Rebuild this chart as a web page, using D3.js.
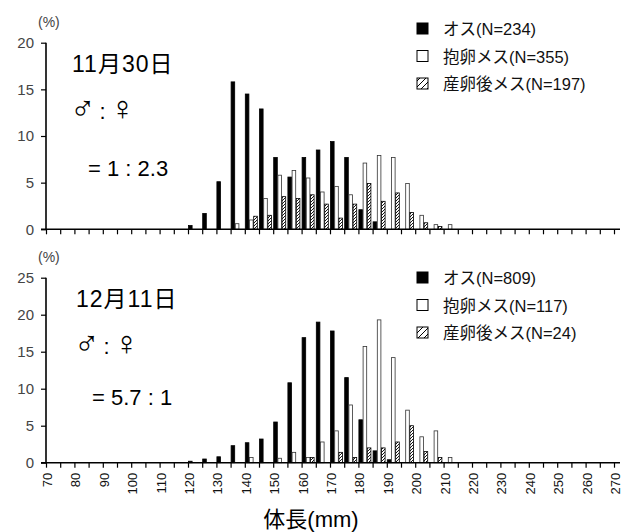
<!DOCTYPE html>
<html>
<head>
<meta charset="utf-8">
<script src="https://cdn.jsdelivr.net/npm/d3@7"></script>
<style>
  body { margin: 0; background: #fff; }
  svg { display: block; }
  text { font-family: "Liberation Sans", "Noto Sans CJK JP", sans-serif; }
</style>
</head>
<body>
<svg id="chart" width="623" height="532"></svg>
<script>
// 体長の階級 (mm, 下限)
var bins = [120, 125, 130, 135, 140, 145, 150, 155, 160, 165, 170, 175, 180, 185, 190, 195, 200, 205, 210];
var xTicks = d3.range(70, 271, 5);
var xLabels = d3.range(70, 271, 10);

// 11月30日 (%)
var male1130   = [0.4, 1.7, 5.1, 15.8, 14.5, 12.9, 7.7, 5.6, 7.7, 8.5, 9.4, 7.7, 2.1, 0.8, 0, 0, 0, 0, 0];
var ovig1130   = [0, 0, 0, 0.6, 1.0, 3.3, 5.8, 6.3, 5.5, 4.0, 4.6, 3.7, 7.1, 7.9, 7.7, 4.9, 1.5, 0.5, 0.5];
var spent1130  = [0, 0, 0, 0, 1.4, 1.5, 3.5, 3.3, 3.7, 2.7, 1.2, 2.7, 4.9, 3.0, 3.9, 1.8, 0.7, 0.3, 0];

// 12月11日 (%)
var male1211   = [0.2, 0.5, 0.8, 2.3, 2.7, 3.2, 5.5, 10.8, 16.9, 19.0, 17.8, 11.5, 5.8, 1.6, 0.4, 0, 0, 0, 0];
var ovig1211   = [0, 0, 0, 0, 0.7, 0, 0.6, 1.4, 0.7, 2.8, 4.3, 7.8, 15.7, 19.3, 14.2, 7.1, 3.5, 4.3, 0.7];
var spent1211  = [0, 0, 0, 0, 0, 0, 0, 0, 0.7, 0, 1.4, 0.7, 2.0, 2.0, 2.8, 5.0, 1.5, 0.7, 0];

var yTicks1130 = [0, 5, 10, 15, 20];
var yTicks1211 = [0, 5, 10, 15, 20, 25];

var legend1130 = ["オス(N=234)", "抱卵メス(N=355)", "産卵後メス(N=197)"];
var legend1211 = ["オス(N=809)", "抱卵メス(N=117)", "産卵後メス(N=24)"];

var svg = d3.select("#chart");

// 斜線パターン
var defs = svg.append("defs");
defs.append("pattern")
    .attr("id", "hatch")
    .attr("patternUnits", "userSpaceOnUse")
    .attr("width", 3).attr("height", 3)
    .append("path")
    .attr("d", "M-1,1 l2,-2 M0,3 l3,-3 M2,4 l2,-2")
    .attr("stroke", "#000").attr("stroke-width", 0.9);
defs.append("pattern")
    .attr("id", "hatchBig")
    .attr("patternUnits", "userSpaceOnUse")
    .attr("width", 6).attr("height", 6)
    .append("path")
    .attr("d", "M-1,1 l2,-2 M0,6 l6,-6 M5,7 l2,-2")
    .attr("stroke", "#000").attr("stroke-width", 1);

var x = d3.scaleLinear().domain([70, 270]).range([46, 614]);
var bw = 4.2;

var seriesStyle = [
    { fill: "#000", stroke: "#000" },
    { fill: "#fff", stroke: "#333" },
    { fill: "url(#hatch)", stroke: "#000" }
];

function drawPanel(cfg) {
    var g = svg.append("g");
    var y = d3.scaleLinear().domain([0, cfg.yMax]).range([cfg.y0, cfg.y1]);

    // 棒
    var series = [cfg.male, cfg.ovig, cfg.spent];
    series.forEach(function(vals, si) {
        g.selectAll(".bar" + si)
            .data(bins.map(function(b, i) { return { bin: b, v: vals[i] }; })
                .filter(function(d) { return d.v > 0; }))
            .enter()
            .append("rect")
            .attr("x", function(d) { return x(d.bin) + 0.5 + si * bw; })
            .attr("y", function(d) { return y(d.v); })
            .attr("width", bw - 0.6)
            .attr("height", function(d) { return cfg.y0 - y(d.v); })
            .attr("fill", seriesStyle[si].fill)
            .attr("stroke", seriesStyle[si].stroke)
            .attr("stroke-width", 0.8);
    });

    // y軸
    var yAxis = d3.axisLeft(y).tickValues(cfg.yTicks).tickSize(5).tickPadding(7);
    var ya = g.append("g").attr("transform", "translate(46,0)").call(yAxis);
    ya.select(".domain").attr("stroke-width", 1.6).attr("d", "M0," + cfg.y0 + "V" + cfg.y1);
    ya.selectAll(".tick line").attr("stroke-width", 1.2);
    ya.selectAll(".tick text")
        .attr("font-size", 15)
        .attr("fill", "#444")
        .attr("font-family", "Liberation Sans, sans-serif");

    // x軸
    var xAxis = d3.axisBottom(x).tickValues(xTicks).tickSize(5).tickFormat("");
    var xa = g.append("g").attr("transform", "translate(0," + cfg.y0 + ")").call(xAxis);
    xa.select(".domain").attr("stroke-width", 1.6).attr("d", "M41,0H620");
    xa.selectAll(".tick line").attr("stroke-width", 1.2);

    if (cfg.showLabels) {
        g.selectAll(".xlab")
            .data(xLabels)
            .enter()
            .append("text")
            .attr("transform", function(d) {
                return "translate(" + (x(d) + 6) + "," + (cfg.y0 + 10) + ") rotate(-90)";
            })
            .attr("text-anchor", "end")
            .attr("font-size", 13)
            .attr("fill", "#111")
            .text(function(d) { return d; });
    }

    g.append("text")
        .attr("x", 38).attr("y", cfg.y1 - 16)
        .attr("font-size", 14)
        .attr("fill", "#444")
        .text("(%)");

    // 日付と性比
    g.append("text")
        .attr("x", cfg.textX).attr("y", cfg.y1 + 29)
        .attr("font-size", 23)
        .attr("letter-spacing", 1)
        .text(cfg.date);
    var sex = g.append("text")
        .attr("x", cfg.textX - 2).attr("y", cfg.y1 + 77)
        .attr("font-family", "DejaVu Sans, sans-serif");
    sex.append("tspan").attr("font-size", 34).text("♂");
    sex.append("tspan").attr("font-size", 22).attr("dx", 4).attr("dy", -1).text(":");
    sex.append("tspan").attr("font-size", 34).attr("dx", 4).attr("dy", 1).text("♀");
    g.append("text")
        .attr("x", cfg.textX + 16).attr("y", cfg.ratioY)
        .attr("font-size", 22)
        .text(cfg.ratio);

    // 凡例
    var leg = g.append("g");
    cfg.legend.forEach(function(label, i) {
        var ly = cfg.legendTop + i * 27.5;
        leg.append("rect")
            .attr("x", 417).attr("y", ly)
            .attr("width", 11).attr("height", 11)
            .attr("fill", i == 2 ? "url(#hatchBig)" : seriesStyle[i].fill)
            .attr("stroke", "#000")
            .attr("stroke-width", 1);
        leg.append("text")
            .attr("x", 443).attr("y", ly + 12)
            .attr("font-size", 16.5)
            .attr("fill", "#111")
            .text(label);
    });
}

drawPanel({
    male: male1130, ovig: ovig1130, spent: spent1130,
    yMax: 20, yTicks: yTicks1130, y0: 229.3, y1: 42.7,
    date: "11月30日", ratio: "= 1 : 2.3", textX: 72, ratioY: 176,
    legend: legend1130, legendTop: 23, showLabels: false
});

drawPanel({
    male: male1211, ovig: ovig1211, spent: spent1211,
    yMax: 25, yTicks: yTicks1211, y0: 462.7, y1: 277.7,
    date: "12月11日", ratio: "= 5.7 : 1", textX: 76, ratioY: 405,
    legend: legend1211, legendTop: 272, showLabels: true
});

// x軸タイトル
svg.append("text")
    .attr("x", 311).attr("y", 527)
    .attr("text-anchor", "middle")
    .attr("font-size", 22)
    .text("体長(mm)");
</script>
</body>
</html>
